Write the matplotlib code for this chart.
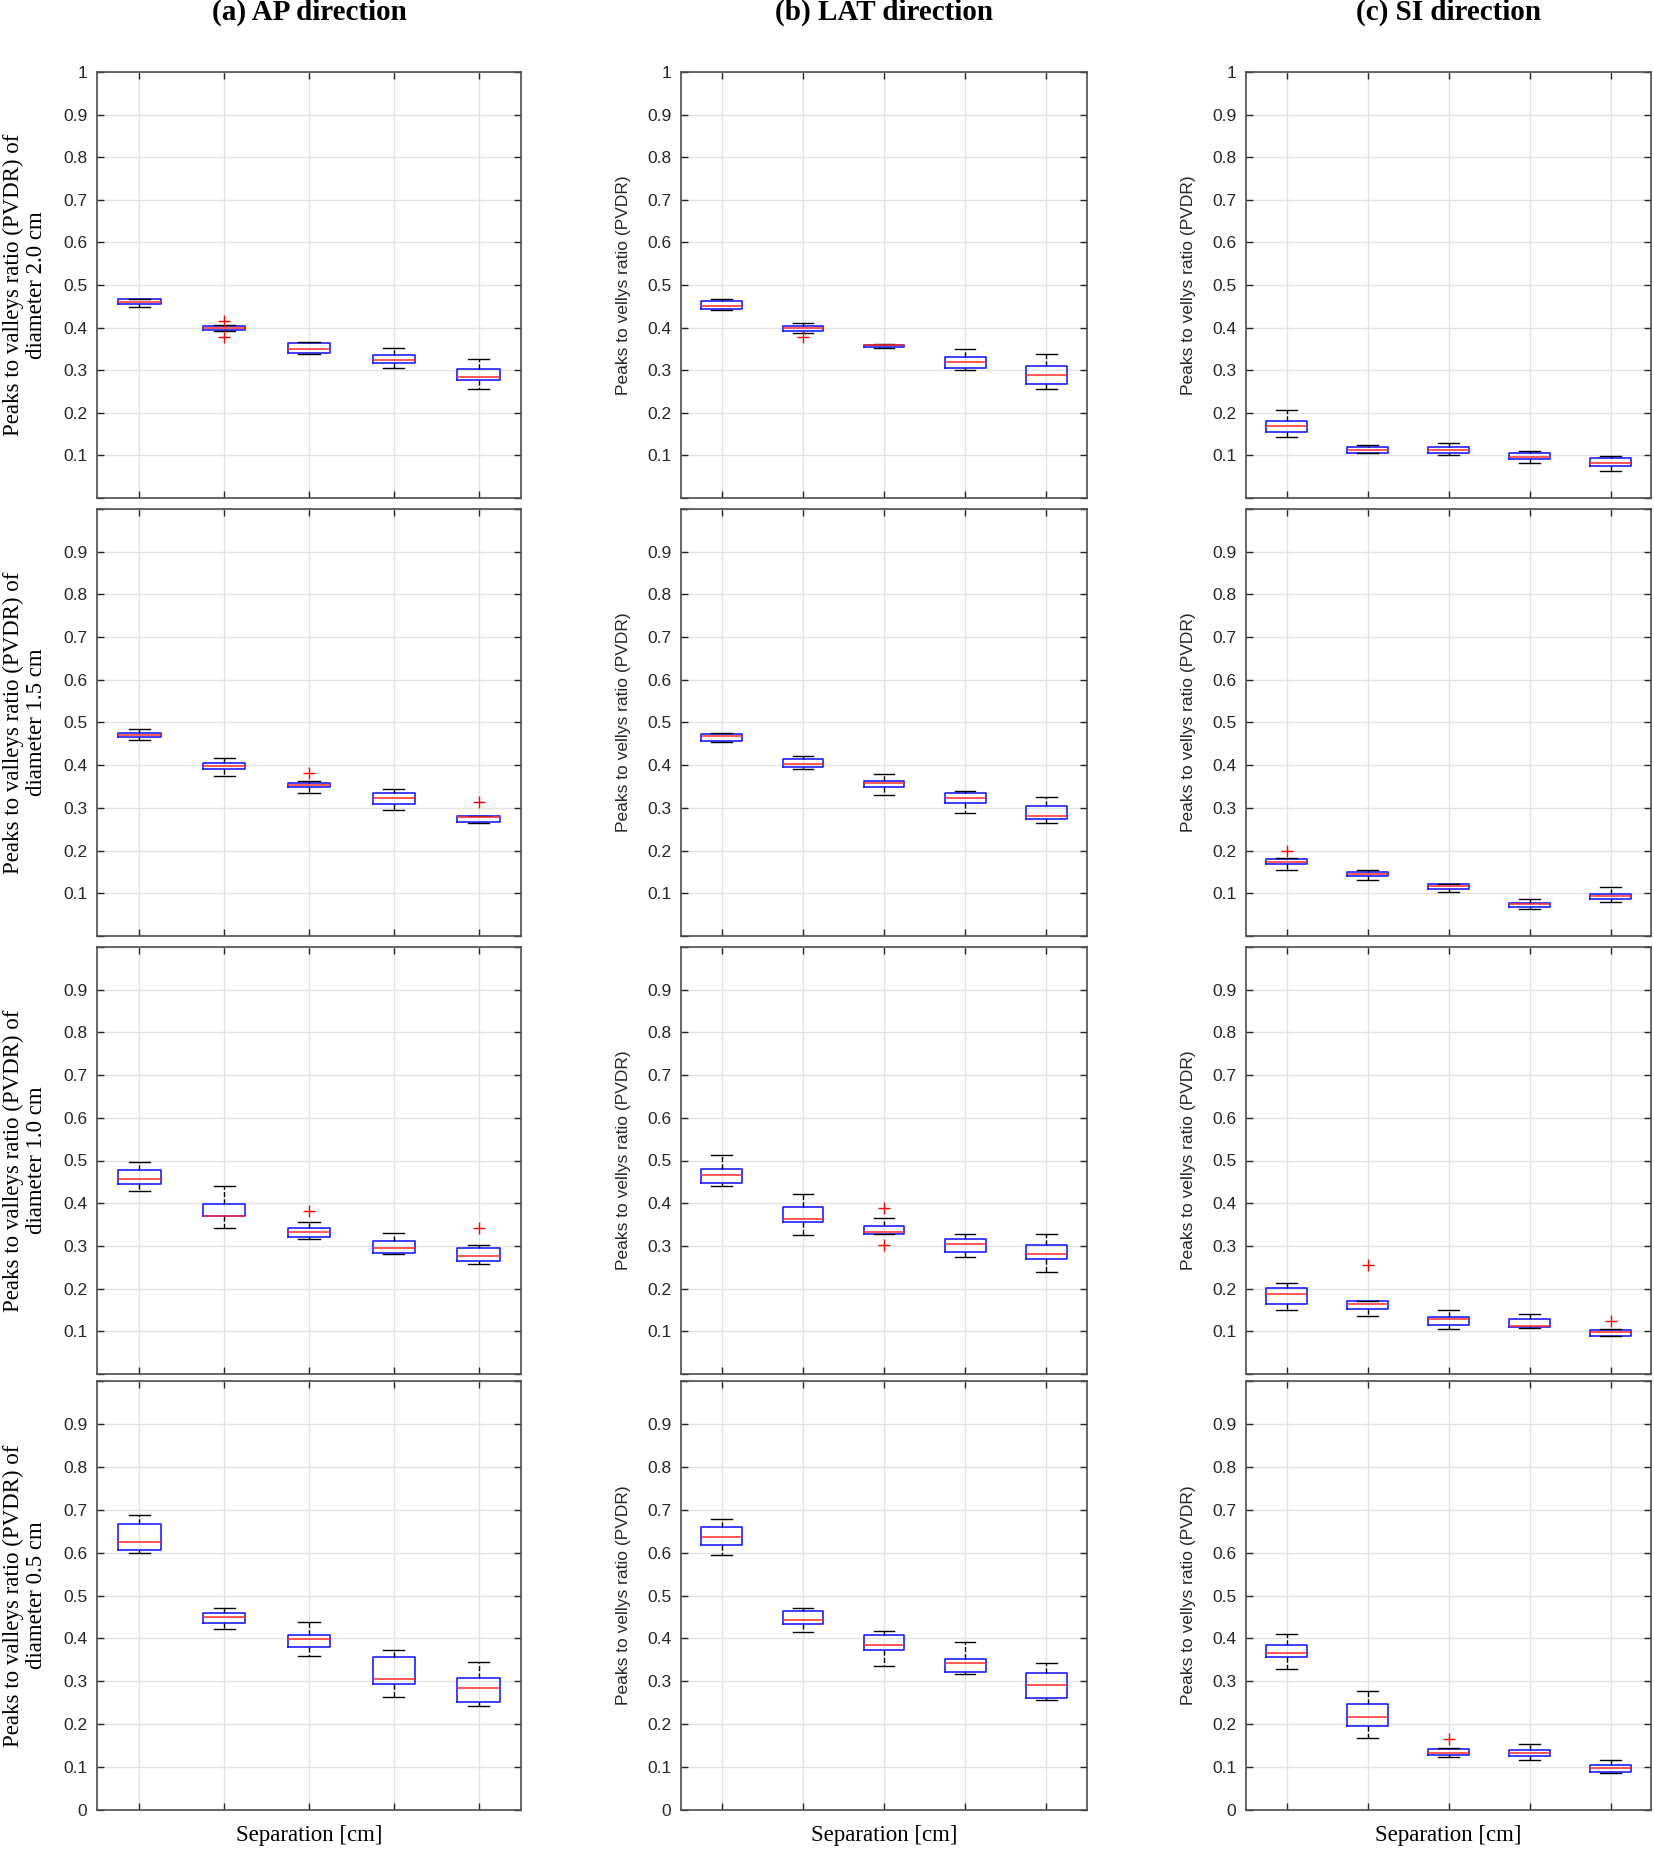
import matplotlib.pyplot as plt
import numpy as np

# Box statistics: one row per diameter (2.0, 1.5, 1.0, 0.5 cm),
# one value per separation (5 positions)
diameters = ['2.0', '1.5', '1.0', '0.5']
directions = ['(a) AP direction', '(b) LAT direction', '(c) SI direction']

# --- AP direction ---
ap_lo = [[0.449, 0.393, 0.337, 0.304, 0.256],
         [0.460, 0.375, 0.336, 0.294, 0.264],
         [0.428, 0.342, 0.317, 0.280, 0.257],
         [0.599, 0.423, 0.360, 0.264, 0.243]]
ap_q1 = [[0.456, 0.395, 0.340, 0.318, 0.277],
         [0.465, 0.392, 0.348, 0.310, 0.266],
         [0.446, 0.369, 0.321, 0.283, 0.264],
         [0.607, 0.437, 0.381, 0.294, 0.252]]
ap_med = [[0.460, 0.399, 0.349, 0.325, 0.285],
          [0.470, 0.398, 0.353, 0.323, 0.278],
          [0.456, 0.370, 0.332, 0.295, 0.277],
          [0.624, 0.449, 0.398, 0.306, 0.285]]
ap_q3 = [[0.466, 0.403, 0.363, 0.335, 0.302],
         [0.475, 0.405, 0.358, 0.334, 0.280],
         [0.477, 0.398, 0.343, 0.311, 0.295],
         [0.666, 0.460, 0.408, 0.356, 0.308]]
ap_hi = [[0.468, 0.406, 0.367, 0.352, 0.326],
         [0.484, 0.417, 0.363, 0.345, 0.282],
         [0.497, 0.440, 0.356, 0.330, 0.302],
         [0.688, 0.471, 0.439, 0.374, 0.344]]
ap_fliers = [[[], [0.416, 0.379], [], [], []],
             [[], [], [0.381], [], [0.313]],
             [[], [], [0.381], [], [0.343]],
             [[], [], [], [], []]]

# --- LAT direction ---
lat_lo = [[0.441, 0.387, 0.351, 0.301, 0.255],
          [0.454, 0.391, 0.330, 0.288, 0.265],
          [0.440, 0.326, 0.328, 0.274, 0.240],
          [0.594, 0.415, 0.336, 0.317, 0.257]]
lat_q1 = [[0.443, 0.393, 0.355, 0.306, 0.267],
          [0.457, 0.395, 0.348, 0.312, 0.274],
          [0.448, 0.356, 0.328, 0.286, 0.270],
          [0.618, 0.433, 0.373, 0.322, 0.262]]
lat_med = [[0.451, 0.399, 0.359, 0.320, 0.289],
           [0.469, 0.402, 0.359, 0.323, 0.282],
           [0.465, 0.364, 0.333, 0.305, 0.281],
           [0.636, 0.442, 0.385, 0.342, 0.292]]
lat_q3 = [[0.462, 0.404, 0.360, 0.332, 0.309],
          [0.472, 0.415, 0.362, 0.335, 0.304],
          [0.481, 0.390, 0.346, 0.316, 0.301],
          [0.659, 0.464, 0.409, 0.353, 0.319]]
lat_hi = [[0.467, 0.411, 0.361, 0.350, 0.338],
          [0.475, 0.421, 0.380, 0.340, 0.325],
          [0.512, 0.421, 0.365, 0.329, 0.329],
          [0.678, 0.471, 0.417, 0.391, 0.343]]
lat_fliers = [[[], [0.378], [], [], []],
              [[], [], [], [], []],
              [[], [], [0.389, 0.302], [], []],
              [[], [], [], [], []]]

# --- SI direction ---
si_lo = [[0.144, 0.105, 0.102, 0.082, 0.063],
         [0.155, 0.131, 0.104, 0.064, 0.079],
         [0.151, 0.135, 0.106, 0.107, 0.089],
         [0.329, 0.167, 0.124, 0.116, 0.087]]
si_q1 = [[0.156, 0.106, 0.105, 0.091, 0.074],
         [0.168, 0.141, 0.111, 0.069, 0.086],
         [0.165, 0.153, 0.114, 0.109, 0.089],
         [0.356, 0.195, 0.128, 0.127, 0.089]]
si_med = [[0.170, 0.112, 0.112, 0.097, 0.082],
          [0.174, 0.146, 0.116, 0.074, 0.093],
          [0.188, 0.165, 0.129, 0.112, 0.098],
          [0.366, 0.216, 0.134, 0.132, 0.098]]
si_q3 = [[0.180, 0.119, 0.119, 0.105, 0.093],
         [0.180, 0.150, 0.121, 0.078, 0.098],
         [0.202, 0.170, 0.134, 0.129, 0.103],
         [0.384, 0.247, 0.143, 0.139, 0.106]]
si_hi = [[0.206, 0.125, 0.129, 0.110, 0.099],
         [0.182, 0.155, 0.122, 0.087, 0.114],
         [0.212, 0.172, 0.151, 0.141, 0.106],
         [0.411, 0.278, 0.144, 0.155, 0.117]]
si_fliers = [[[], [], [], [], []],
             [[0.198], [], [], [], []],
             [[], [0.255], [], [], [0.123]],
             [[], [], [0.166], [], []]]

cols = [(ap_lo, ap_q1, ap_med, ap_q3, ap_hi, ap_fliers),
        (lat_lo, lat_q1, lat_med, lat_q3, lat_hi, lat_fliers),
        (si_lo, si_q1, si_med, si_q3, si_hi, si_fliers)]

positions = [1, 2, 3, 4, 5]
yticks = np.round(np.arange(0, 1.01, 0.1), 1)

SANS = 'Liberation Sans'
SERIF = 'Liberation Serif'
DARK = '#262626'

W, H = 1654, 1851
fig = plt.figure(figsize=(W / 100, H / 100), dpi=100)
fig.patch.set_facecolor('white')

col_x = [(97, 521), (681, 1087), (1246, 1651)]
row_y = [(72, 498), (509, 936), (947, 1374), (1381, 1810)]

for c, (lo, q1, med, q3, hi, fl) in enumerate(cols):
    for r in range(4):
        x0, x1 = col_x[c]
        y0, y1 = row_y[r]
        ax = fig.add_axes([x0 / W, 1 - y1 / H, (x1 - x0) / W, (y1 - y0) / H])

        stats = []
        for i in range(5):
            stats.append(dict(whislo=lo[r][i], q1=q1[r][i], med=med[r][i],
                              q3=q3[r][i], whishi=hi[r][i], fliers=fl[r][i]))
        ax.bxp(stats, positions=positions, widths=0.5, manage_ticks=False,
               boxprops=dict(color='#1f1fff', lw=1.2),
               medianprops=dict(color='#ff2a2a', lw=1.1),
               whiskerprops=dict(color='black', lw=1.0, ls='--'),
               capprops=dict(color='black', lw=1.0),
               flierprops=dict(marker='+', markeredgecolor='red',
                               markersize=9, markeredgewidth=1.0, linestyle='none'))

        ax.set_xlim(0.5, 5.5)
        ax.set_ylim(0, 1)
        ax.set_xticks(positions)
        ax.set_xticklabels([])
        ax.set_yticks(yticks)
        labels = []
        for v in yticks:
            txt = '0' if v == 0 else ('1' if v == 1 else f'{v:.1f}')
            if (v == 0 and r != 3) or (v == 1 and r != 0):
                txt = ''
            labels.append(txt)
        ax.set_yticklabels(labels, fontfamily=SANS)

        ax.grid(True, color='#e3e3e3', lw=1.0)
        ax.set_axisbelow(True)
        ax.tick_params(direction='in', length=5, width=1.0, top=True, right=True,
                       labelsize=12.5, colors=DARK, pad=7)
        for sp in ax.spines.values():
            sp.set_color('#4d4d4d')
            sp.set_linewidth(1.2)

        if c == 0:
            ax.set_ylabel(f'Peaks to valleys ratio (PVDR) of\ndiameter {diameters[r]} cm',
                          fontfamily=SERIF, fontsize=16.5, color='black',
                          va='center', linespacing=1.15)
            ax.yaxis.set_label_coords(-0.17, 0.5)
        else:
            ax.set_ylabel('Peaks to vellys ratio (PVDR)', fontfamily=SANS,
                          fontsize=12.5, color=DARK, va='center')
            ax.yaxis.set_label_coords(-0.142, 0.5)

        if r == 3:
            ax.set_xlabel('Separation [cm]', fontfamily=SERIF, fontsize=16.5,
                          color='black', labelpad=4)

    fig.text(((col_x[c][0] + col_x[c][1]) / 2) / W, 1 - 12 / H, directions[c],
             ha='center', va='center', fontfamily=SERIF, fontweight='bold',
             fontsize=21)

fig.savefig('out.png', dpi=100, facecolor='white')
